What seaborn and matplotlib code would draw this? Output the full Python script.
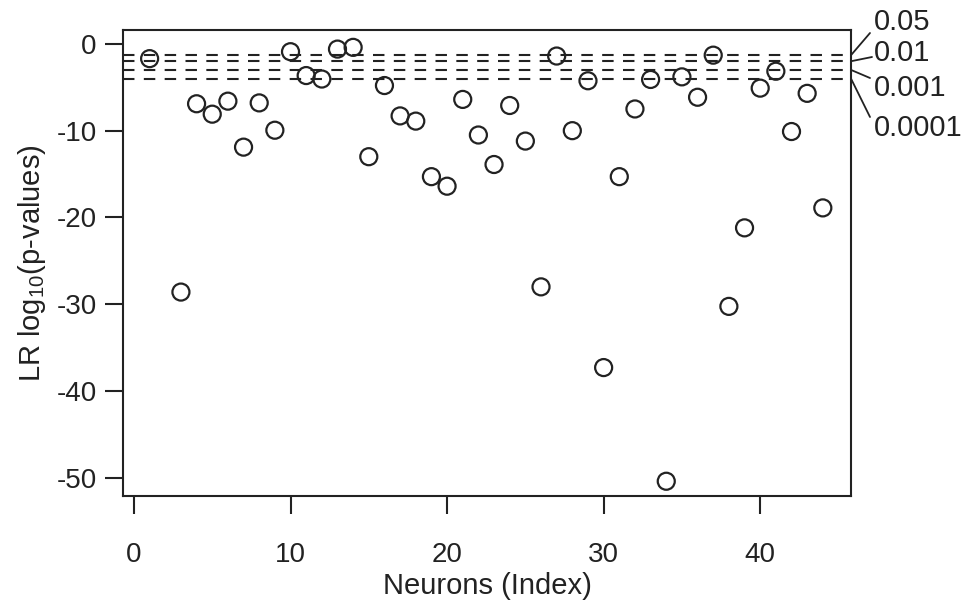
import matplotlib
matplotlib.use("Agg")
import matplotlib.pyplot as plt
import seaborn as sns
import pandas as pd
import numpy as np

# Data
neuron_index = [1, 3, 4, 5, 6, 7, 8, 9, 10, 11, 12, 13, 14, 15, 16, 17, 18, 19, 20,
                21, 22, 23, 24, 25, 26, 27, 28, 29, 30, 31, 32, 33, 34, 35, 36, 37,
                38, 39, 40, 41, 42, 43, 44]
log_p = [-1.7, -28.6, -6.9, -8.1, -6.6, -11.9, -6.8, -9.95, -0.9, -3.65, -4.05, -0.6,
         -0.4, -13.0, -4.8, -8.3, -8.9, -15.3, -16.4, -6.4, -10.5, -13.9, -7.1, -11.2,
         -28.0, -1.4, -10.0, -4.25, -37.3, -15.3, -7.5, -4.1, -50.4, -3.8, -6.15, -1.3,
         -30.25, -21.2, -5.1, -3.15, -10.1, -5.7, -18.9]
threshold_labels = ["0.05", "0.01", "0.001", "0.0001"]
threshold_p = [0.05, 0.01, 0.001, 0.0001]
x_ticks = [0, 10, 20, 30, 40]
y_ticks = [0, -10, -20, -30, -40, -50]

df = pd.DataFrame({"idx": neuron_index, "lp": log_p})

sns.set_theme(style="white")
plt.rcParams['font.family'] = ['Liberation Sans', 'DejaVu Sans']
plt.rcParams['mathtext.fontset'] = 'custom'
plt.rcParams['mathtext.rm'] = 'Liberation Sans'

W, H = 970, 608
fig = plt.figure(figsize=(W / 100, H / 100), dpi=100)
ax = fig.add_axes([123 / W, 1 - 496 / H, (851 - 123) / W, (496 - 30) / H])

sns.scatterplot(data=df, x="idx", y="lp", ax=ax, marker="o", s=150,
                facecolor="none", edgecolor="#222222", linewidth=1.6, legend=False)

thr_vals = [np.log10(p) for p in threshold_p]
for t in thr_vals:
    ax.axhline(t, color="#222222", lw=1.5, ls=(0, (5.5, 4.5)), zorder=1)

ax.set_xlim(-0.7, 45.8)
ax.set_ylim(-52.1, 1.6)
ax.set_xticks(x_ticks)
ax.set_yticks(y_ticks)
ax.set_yticklabels([str(v) for v in y_ticks])
ax.tick_params(axis="both", direction="out", length=13, width=1.5, color="#222222",
               labelsize=20, labelcolor="#222222", left=True, bottom=True)
ax.tick_params(axis="x", pad=20)
ax.tick_params(axis="y", pad=6)
for sp in ax.spines.values():
    sp.set_visible(True)
    sp.set_color("#222222")
    sp.set_linewidth(1.5)

ax.set_xlabel("Neurons (Index)", fontsize=21, color="#222222", labelpad=3)
ax.set_ylabel(r"LR log$_{10}$(p-values)", fontsize=21, color="#222222", labelpad=6)

# Threshold labels with leader lines
text_pos = [(874, H - 22), (874, H - 53), (874, H - 88), (874, H - 128)]
line_end = [(870, H - 33), (872, H - 57), (870, H - 78), (870, H - 117)]
trans = ax.get_yaxis_transform()
for lab, t, tp, le in zip(threshold_labels, thr_vals, text_pos, line_end):
    ax.annotate("", xy=(1, t), xycoords=trans, xytext=le, textcoords="figure pixels",
                arrowprops=dict(arrowstyle="-", color="#222222", lw=1.3,
                                shrinkA=0, shrinkB=0), annotation_clip=False)
    fig.text(tp[0] / W, tp[1] / H, lab, fontsize=21, color="#222222",
             ha="left", va="center")

fig.savefig("out.png", dpi=100, facecolor="white")
